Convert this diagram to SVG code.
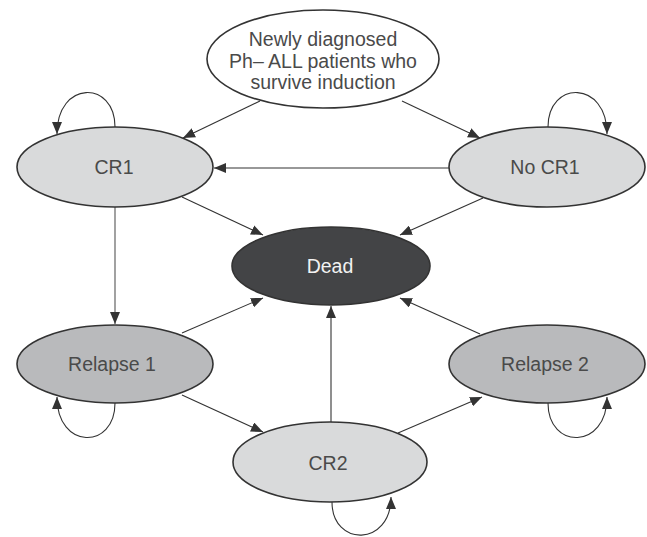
<svg xmlns="http://www.w3.org/2000/svg" width="647" height="537" viewBox="0 0 647 537">
<style>
.n{stroke:#333;stroke-width:1.6}
.lt{fill:#d9dadb}
.md{fill:#b9babc}
.dk{fill:#434446}
.w{fill:#fff}
text{font-family:"Liberation Sans",Arial,sans-serif;font-size:19.5px;text-anchor:middle;fill:#4a4a4a}
.dt{fill:#f2f2f2}
.e{fill:none;stroke:#333;stroke-width:1.1;marker-end:url(#a)}
</style>
<defs>
<marker id="a" markerUnits="userSpaceOnUse" markerWidth="12" markerHeight="10" refX="12" refY="5" orient="auto" viewBox="0 0 12 10">
<path d="M0,0 L12,5 L0,10 Z" fill="#333"/>
</marker>
</defs>
<g id="connectors">
<path class="e" d="M260,101 L183,138"/>
<path class="e" d="M402,101 L480,138"/>
<path class="e" d="M449,168 L214,168"/>
<path class="e" d="M182,197 L263,235"/>
<path class="e" d="M483,198 L400,235"/>
<path class="e" d="M115,207 L115,324" style="stroke:#555"/>
<path class="e" d="M182,333 L263,298"/>
<path class="e" d="M480,334 L400,298"/>
<path class="e" d="M331,423 L331,306"/>
<path class="e" d="M182,395 L263,432"/>
<path class="e" d="M398,433 L482,397"/>
<path class="e" d="M115,127 C115,80 57,80 57,134"/>
<path class="e" d="M548,127 C548,80 607,80 607,134"/>
<path class="e" d="M115,403 C115,450 57,450 57,397"/>
<path class="e" d="M548,403 C548,450 607,450 607,397"/>
<path class="e" d="M332,502 C332,547 391,547 391,497"/>
</g>
<g id="start">
<ellipse class="n w" cx="323" cy="59" rx="116" ry="49"/>
<text x="323" y="46">Newly diagnosed</text>
<text x="323" y="68">Ph– ALL patients who</text>
<text x="323" y="89">survive induction</text>
</g>
<g id="cr1">
<ellipse class="n lt" cx="115" cy="167" rx="98" ry="40"/>
<text x="114" y="174">CR1</text>
</g>
<g id="nocr1">
<ellipse class="n lt" cx="547" cy="167" rx="98" ry="40"/>
<text x="545" y="174">No CR1</text>
</g>
<g id="dead">
<ellipse class="n dk" cx="331" cy="266" rx="99" ry="39"/>
<text class="dt" x="330" y="273">Dead</text>
</g>
<g id="relapse1">
<ellipse class="n md" cx="115" cy="364" rx="98" ry="39"/>
<text x="112" y="371">Relapse 1</text>
</g>
<g id="relapse2">
<ellipse class="n md" cx="547" cy="364" rx="98" ry="39"/>
<text x="545" y="371">Relapse 2</text>
</g>
<g id="cr2">
<ellipse class="n lt" cx="330" cy="462" rx="97" ry="40"/>
<text x="328" y="470">CR2</text>
</g>
</svg>
